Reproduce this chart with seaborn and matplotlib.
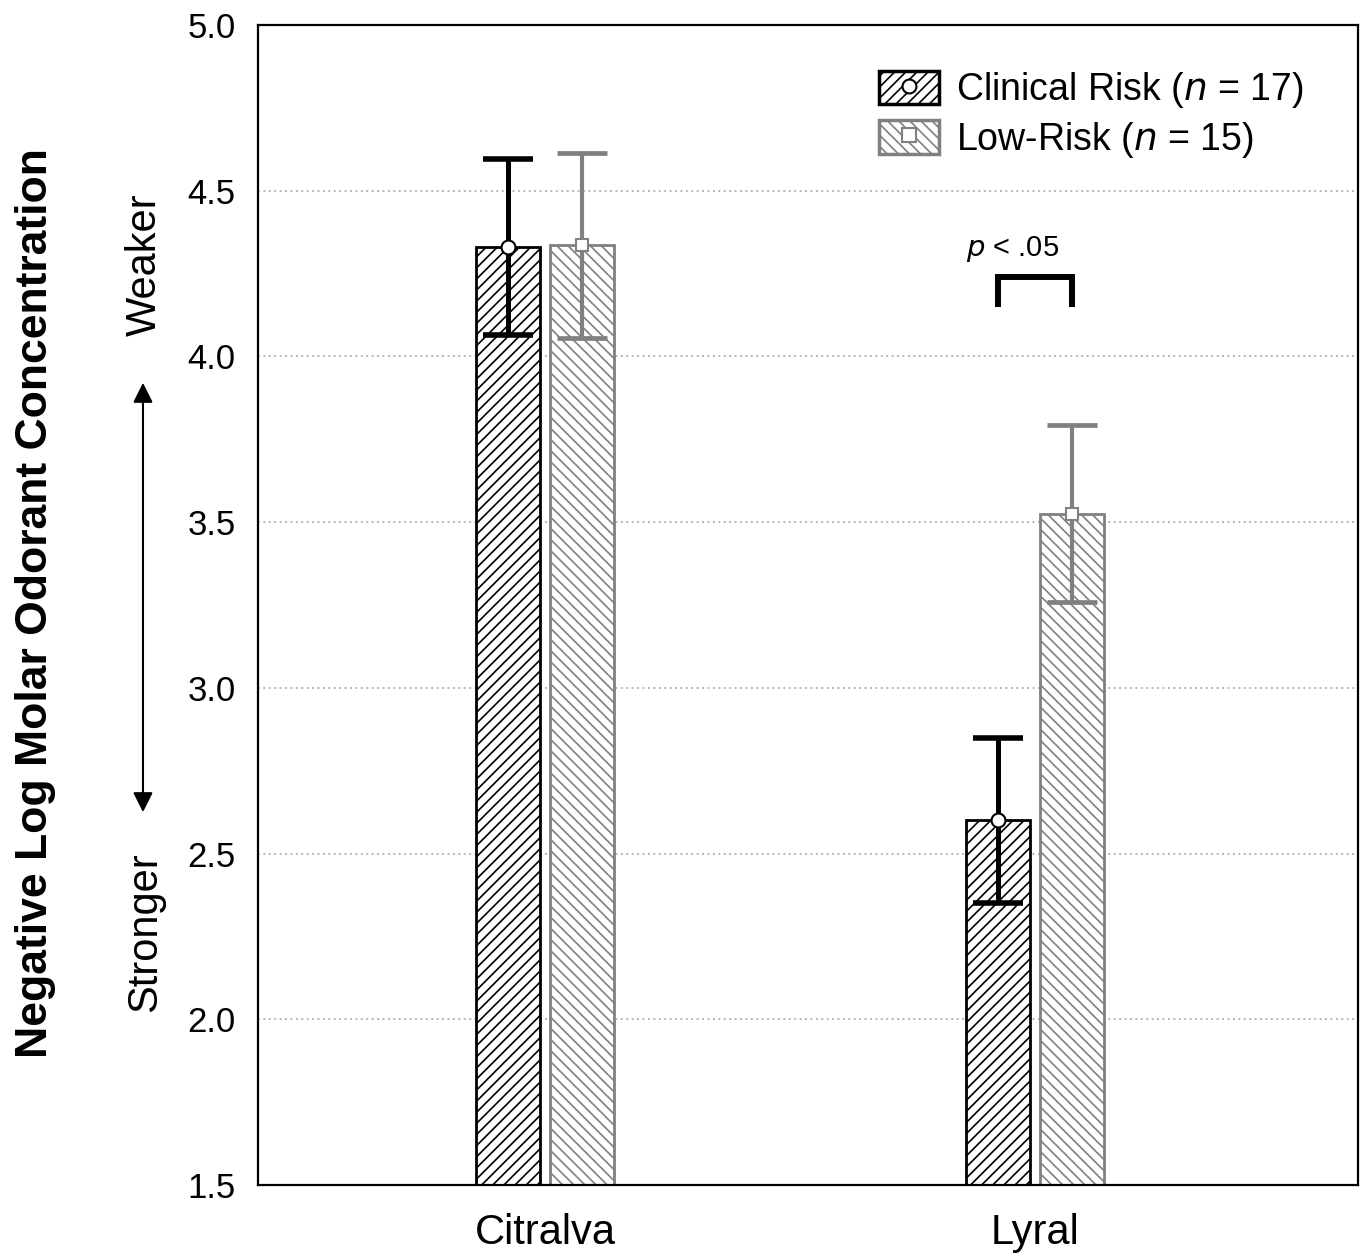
import numpy as np
import pandas as pd
import seaborn as sns
import matplotlib.pyplot as plt
from matplotlib.patches import Patch, FancyArrowPatch
from matplotlib.lines import Line2D
from matplotlib.legend_handler import HandlerTuple

# values
odorants = ["Citralva", "Lyral"]
groups = ["Clinical Risk", "Low-Risk"]
clinical_mean = [4.33, 2.60]
clinical_se = [0.265, 0.25]
lowrisk_mean = [4.335, 3.525]
lowrisk_se = [0.28, 0.267]
yticks = [1.5, 2.0, 2.5, 3.0, 3.5, 4.0, 4.5, 5.0]

sns.set_style("white")
plt.rcParams['font.family'] = ['Liberation Sans', 'DejaVu Sans']
plt.rcParams['hatch.linewidth'] = 1.2
plt.rcParams['text.color'] = 'black'
plt.rcParams['xtick.color'] = 'black'
plt.rcParams['ytick.color'] = 'black'

df = pd.DataFrame({
    "odorant": odorants * 2,
    "group": [groups[0]] * 2 + [groups[1]] * 2,
    "mean": clinical_mean + lowrisk_mean,
})

fig = plt.figure(figsize=(13.63, 12.53), dpi=100)
ax = fig.add_axes([0.1893, 0.0543, 0.807, 0.9257])

sns.barplot(data=df, x="odorant", y="mean", hue="group", order=odorants,
            hue_order=groups, width=0.3, gap=0.13, errorbar=None,
            palette=["white", "white"], legend=False, ax=ax)

colors = ["black", "#808080"]
hatches = ["///", "\\\\\\"]
markers = ["o", "s"]
means = [clinical_mean, lowrisk_mean]
ses = [clinical_se, lowrisk_se]
bar_conts = list(ax.containers)
for i, cont in enumerate(bar_conts):
    xs = []
    for bar in cont.patches:
        bar.set_facecolor("white")
        bar.set_edgecolor(colors[i])
        bar.set_hatch(hatches[i])
        bar.set_linewidth(2)
        xs.append(bar.get_x() + bar.get_width() / 2)
    ax.errorbar(xs, means[i], yerr=ses[i], fmt="none", ecolor=colors[i],
                elinewidth=3.6 if i == 0 else 3.0, capsize=18,
                capthick=4.0 if i == 0 else 3.4, zorder=4)
    ax.plot(xs, means[i], ls="none", marker=markers[i], ms=10 if i == 0 else 9,
            mfc="white", mec=colors[i], mew=1.5, zorder=5)

ax.set_ylim(1.5, 5.0)
ax.set_xlim(-0.586, 1.659)
ax.set_yticks(yticks)
ax.set_yticklabels([f"{t:.1f}" for t in yticks])
ax.set_xlabel("")
ax.set_ylabel("")
ax.tick_params(axis="y", length=0, labelsize=25, pad=16)
ax.tick_params(axis="x", direction="in", length=6, width=1.5, labelsize=30, pad=20)
for y in yticks[1:-1]:
    ax.axhline(y, color="#aaaaaa", ls=(0, (1, 2)), lw=1.3, zorder=0)
for s in ax.spines.values():
    s.set_color("black")
    s.set_linewidth(1.6)

# significance bracket
ax.plot([0.925, 0.925, 1.075, 1.075], [4.15, 4.24, 4.24, 4.15], color="black",
        lw=4.3, solid_capstyle="butt", solid_joinstyle="miter", zorder=5)
ax.text(0.955, 4.325, r"$\it{p}$ < .05", ha="center", va="center", fontsize=21)

# legend
handles = [(Patch(facecolor="white", edgecolor=colors[i], hatch=hatches[i], lw=2.5),
            Line2D([], [], ls="none", marker=markers[i], ms=10, mfc="white",
                   mec=colors[i], mew=1.5)) for i in range(2)]
labels = [r"Clinical Risk ($\it{n}$ = 17)", r"Low-Risk ($\it{n}$ = 15)"]
ax.legend(handles, labels, handler_map={tuple: HandlerTuple(ndivide=1, pad=0)},
          loc="upper left", bbox_to_anchor=(0.534, 0.99), frameon=False,
          fontsize=27, handlelength=1.6, handleheight=1.0, handletextpad=0.45,
          labelspacing=0.25)

# y axis annotations
fig.text(0.0257, 0.5188, "Negative Log Molar Odorant Concentration", rotation=90,
         ha="center", va="center", fontsize=32, fontweight="bold")
fig.text(0.1064, 0.7885, "Weaker", rotation=90, ha="center", va="center", fontsize=30)
fig.text(0.1064, 0.2562, "Stronger", rotation=90, ha="center", va="center", fontsize=30)
fig.add_artist(FancyArrowPatch((0.1049, 0.3496), (0.1049, 0.6967),
                               transform=fig.transFigure,
                               arrowstyle="<|-|>,head_length=12,head_width=6",
                               color="black", lw=1.5))

fig.savefig("out.png", dpi=100)
